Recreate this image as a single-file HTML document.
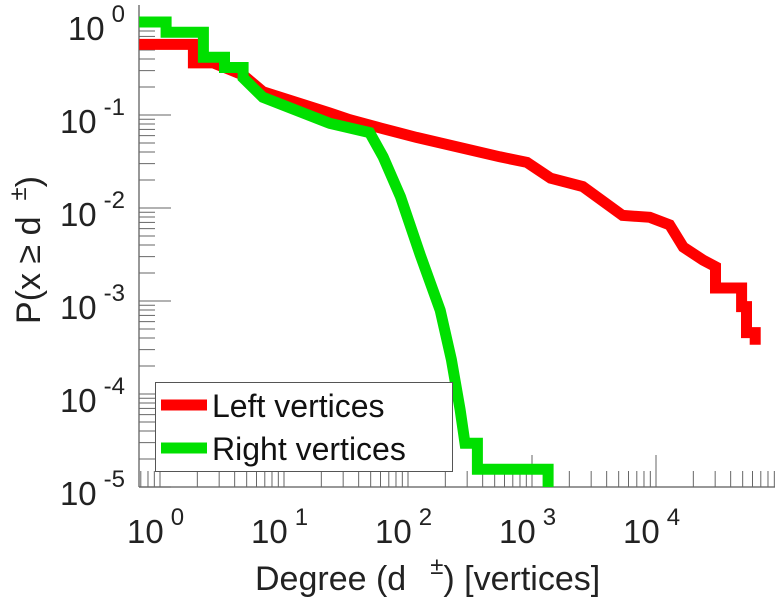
<!DOCTYPE html>
<html><head><meta charset="utf-8"><style>
html,body{margin:0;padding:0;background:#fff;}
svg{display:block;font-family:"Liberation Sans",sans-serif;}
</style></head><body>
<svg id="chart" width="778" height="600" viewBox="0 0 778 600">
<g id="axes"></g>
<g id="series"></g>
<g id="labels"></g>
<g>
<rect x="155.5" y="382.5" width="297" height="89" fill="#fff" stroke="#555" stroke-width="1"/>
<line x1="161" y1="405" x2="207" y2="405" stroke="#ff0000" stroke-width="11"/>
<text x="212" y="417" font-size="32" fill="#111">Left vertices</text>
<line x1="161" y1="448" x2="207" y2="448" stroke="#00e000" stroke-width="11"/>
<text x="212" y="460" font-size="32" fill="#111">Right vertices</text>
</g>
<text x="255" y="590" font-size="34" fill="#222">Degree (d<tspan font-size="24" dx="24" dy="-16">±</tspan><tspan dy="16">) [vertices]</tspan></text>
<text transform="translate(40,250) rotate(-90)" text-anchor="middle" font-size="34" fill="#222">P(x ≥ d<tspan font-size="24" dx="16" dy="-14">±</tspan><tspan dy="14">)</tspan></text>
</svg>
<script>
const xDecades = [0, 1, 2, 3, 4];
const yDecades = [0, -1, -2, -3, -4, -5];
const leftDegree = [0.68,1.86,1.86,2.69,4.68,6.76,23.4,33.9,56.2,117,550,912,1413,2570,5370,8913,12880,16600,23990,30200,30200,48980,48980,53700,53700,63100,63100];
const leftProb = [0.575,0.575,0.363,0.363,0.269,0.178,0.105,0.0891,0.0741,0.0575,0.0355,0.0309,0.0209,0.017,0.00832,0.00794,0.0066,0.0038,0.00275,0.00234,0.00138,0.00138,0.00087,0.00087,0.000457,0.000457,0.000339];
const rightDegree = [0.68,1.12,1.12,2.24,2.24,3.31,3.31,4.68,4.68,6.76,23.4,49,63,87,126,182,224,263,288,363,363,1349,1349];
const rightProb = [1,1,0.776,0.776,0.417,0.417,0.324,0.324,0.251,0.155,0.0813,0.0646,0.0355,0.0132,0.00309,0.000794,0.000234,6.8e-5,2.95e-5,2.95e-5,1.55e-5,1.55e-5,1e-5];

const NS = "http://www.w3.org/2000/svg";
const X0 = 139, X1 = 775, Y0 = 5, Y1 = 487;
function xs(d){ return 160 + 124 * Math.log10(d); }
function ys(p){ return 22 - 93 * Math.log10(p); }
function mk(tag, attrs, parent){
  const e = document.createElementNS(NS, tag);
  for (const k in attrs) e.setAttribute(k, attrs[k]);
  parent.appendChild(e);
  return e;
}
const axes = document.getElementById('axes');
const labels = document.getElementById('labels');
const series = document.getElementById('series');

let ax = mk('line', {x1:X0, y1:Y0, x2:X0, y2:Y1, stroke:'#777', 'stroke-width':1.5}, axes);


let bx = mk('line', {x1:X0, y1:Y1, x2:X1, y2:Y1, stroke:'#777', 'stroke-width':1.5}, axes);



for (let e = -1; e <= 5; e++) {
  for (let m = 1; m <= 9; m++) {
    const x = xs(m * Math.pow(10, e));
    if (x < X0 || x > X1) continue;
    const len = m === 1 ? 32 : 16;
    const t = mk('line', {x1:x, y1:Y1, x2:x, y2:Y1 - len, stroke:'#666', 'stroke-width':1}, axes);
    
    
  }
}
for (let e = -6; e <= 0; e++) {
  for (let m = 1; m <= 9; m++) {
    const y = ys(m * Math.pow(10, e));
    if (y < Y0 || y > Y1) continue;
    const len = m === 1 ? 32 : 16;
    const t = mk('line', {x1:X0, y1:y, x2:X0 + len, y2:y, stroke:'#666', 'stroke-width':1}, axes);
    
    
  }
}
xDecades.forEach(e => {
  const x = xs(Math.pow(10, e));
  const t = mk('text', {x:x - 33, y:543, 'font-size':33, fill:'#222'}, labels);
  
  
  t.textContent = '10';
  const s = mk('tspan', {dx:7, dy:-18, 'font-size':24}, t);
  s.textContent = String(e);
});
yDecades.forEach(e => {
  const y = ys(Math.pow(10, e));
  const t = mk('text', {x:125, y:y + 18, 'font-size':33, fill:'#222', 'text-anchor':'end'}, labels);
  
  
  t.textContent = '10';
  const s = mk('tspan', {dx:7, dy:-18, 'font-size':24}, t);
  s.textContent = String(e);
});
function drawLine(ds, ps, color, name){
  const pts = ds.map((d, i) => xs(d).toFixed(1) + ',' + ys(ps[i]).toFixed(1)).join(' ');
  const l = mk('polyline', {points:pts, fill:'none', stroke:color, 'stroke-width':11, 'stroke-linejoin':'miter', 'stroke-linecap':'butt'}, series);
  
  
}
drawLine(leftDegree, leftProb, '#ff0000', 'left-vertices-line');
drawLine(rightDegree, rightProb, '#00e000', 'right-vertices-line');
</script>
</body></html>
